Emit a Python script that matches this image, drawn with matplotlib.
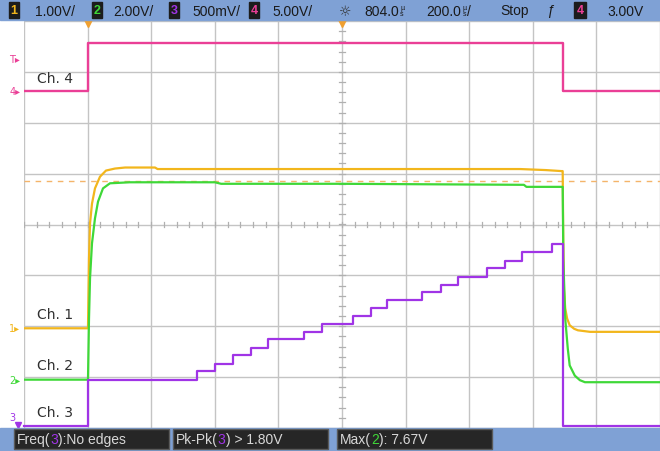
import matplotlib.pyplot as plt
import matplotlib.patches as mpatches
import numpy as np

plt.rcParams['font.family'] = ['Liberation Sans', 'DejaVu Sans']

W, H = 660, 452  # output size in pixels (dpi 100)

# --- 1. DATA (screen divisions: 10 across, 8 high, centre line = 0) ---
CH_COLORS = {"1": "#f2b61c", "2": "#3fd838", "3": "#a034e6", "4": "#ea3f96"}

# Ch. 4 - gate pulse
ch4_t = [0, 1.0, 8.47, 10]
ch4_v = [2.63, 3.56, 2.63, 2.63]

# Ch. 1 - yellow
ch1_t = [0, 1.006, 1.022, 1.038, 1.069, 1.116, 1.195, 1.289, 1.431, 1.59,
         2.06, 2.10, 5.0, 7.8, 8.2, 8.45, 8.47,
         8.48, 8.49, 8.51, 8.54, 8.58, 8.65, 8.71, 8.90, 10]
ch1_v = [-2.04, -2.04, -0.67, 0.02, 0.41, 0.71, 0.94, 1.06, 1.10, 1.12,
         1.12, 1.09, 1.09, 1.09, 1.07, 1.05, 1.05,
         -0.47, -1.26, -1.65, -1.85, -1.98, -2.05, -2.08, -2.11, -2.11]

# Ch. 2 - green
ch2_t = [0, 1.006, 1.022, 1.038, 1.069, 1.116, 1.164, 1.242, 1.352, 1.667,
         3.0, 3.1, 5.0, 7.86, 7.9, 8.45, 8.47,
         8.48, 8.51, 8.55, 8.58, 8.66, 8.74, 8.82, 10]
ch2_v = [-3.05, -3.05, -1.85, -1.06, -0.37, 0.12, 0.45, 0.71, 0.81, 0.83,
         0.83, 0.80, 0.80, 0.78, 0.74, 0.74, 0.74,
         -0.67, -1.85, -2.44, -2.77, -2.97, -3.06, -3.10, -3.10]

# Ch. 3 - purple staircase (step edges and levels)
ch3_edges = [0, 1.0, 2.72, 3.00, 3.29, 3.57, 3.84, 4.40, 4.69, 5.17, 5.46,
             5.71, 6.26, 6.56, 6.82, 7.28, 7.56, 7.83, 8.30, 8.47, 10]
ch3_levels = [-3.97, -3.06, -2.87, -2.75, -2.57, -2.42, -2.25, -2.11, -1.96,
              -1.79, -1.64, -1.49, -1.32, -1.18, -1.03, -0.86, -0.71, -0.55,
              -0.39, -3.97]

ref_levels = {"4": 2.63, "1": -2.04, "2": -3.05}
trig_level = 3.26
cursor_level = 0.85
marker_pos = [1.0, 5.0]

trace_labels = [("Ch. 4", 2.88), ("Ch. 1", -1.75), ("Ch. 2", -2.77), ("Ch. 3", -3.68)]

top_scales = [("1", "1.00V/", 9, 35), ("2", "2.00V/", 92, 113),
              ("3", "500mV/", 169, 192), ("4", "5.00V/", 249, 272)]
top_delay = "804.0"
top_timebase = "200.0"
top_state = "Stop"
top_trig = "3.00V"

meas_boxes = [(14, [("Freq(", "#d8d8d8"), ("3", CH_COLORS["3"]), ("):No edges", "#d8d8d8")]),
              (173, [("Pk-Pk(", "#d8d8d8"), ("3", CH_COLORS["3"]), (") > 1.80V", "#d8d8d8")]),
              (337, [("Max(", "#d8d8d8"), ("2", CH_COLORS["2"]), ("): 7.67V", "#d8d8d8")])]

# --- 2. FIGURE / SCREEN ---
fig = plt.figure(figsize=(W / 100, H / 100), dpi=100)
ax = fig.add_axes([24 / W, 1 - 429 / H, 636 / W, (429 - 22) / H])
ax.set_xlim(0, 10)
ax.set_ylim(-4, 4)
ax.axis("off")

grid_kw = dict(color="#c4c4c4", lw=1.0, zorder=1)
for gx in range(0, 11):
    ax.axvline(gx, **grid_kw)
for gy in range(-4, 5):
    ax.axhline(gy, **grid_kw)

# minor ticks on the centre lines
for tx in np.arange(0, 10.01, 0.2):
    ax.plot([tx, tx], [-0.05, 0.05], color="#b0b0b0", lw=0.9, zorder=1)
for ty in np.arange(-4, 4.01, 0.2):
    ax.plot([4.96, 5.04], [ty, ty], color="#b0b0b0", lw=0.9, zorder=1)

ax.axhline(cursor_level, color="#f4b46a", lw=1.0, ls=(0, (4, 4)), zorder=2)

# --- 3. TRACES ---
ax.plot(ch4_t, ch4_v, drawstyle="steps-post", color=CH_COLORS["4"], lw=1.7, zorder=3)
ax.plot(ch1_t, ch1_v, color=CH_COLORS["1"], lw=1.6, zorder=4)
ax.plot(ch2_t, ch2_v, color=CH_COLORS["2"], lw=1.6, zorder=5)
ax.plot(ch3_edges, ch3_levels + [ch3_levels[-1]], drawstyle="steps-post",
        color=CH_COLORS["3"], lw=1.6, zorder=6, clip_on=False)

for label, y in trace_labels:
    ax.text(0.2, y, label, fontsize=10, color="#303030", va="center", ha="left",
            family=["DejaVu Sans"])

# markers on the left edge
for ch, lvl in ref_levels.items():
    ax.text(-0.06, lvl, ch + "\u25b8", color=CH_COLORS[ch], fontsize=7, ha="right",
            va="center", clip_on=False, family=["DejaVu Sans"])
ax.text(-0.06, trig_level, "T\u25b8", color=CH_COLORS["4"], fontsize=7, ha="right",
        va="center", clip_on=False, family=["DejaVu Sans"])
ax.text(-0.14, -3.78, "3", color=CH_COLORS["3"], fontsize=7, ha="right",
        va="center", clip_on=False, family=["DejaVu Sans"])
ax.plot([-0.1], [-3.95], marker="v", color=CH_COLORS["3"], ms=4, clip_on=False)

for mx in marker_pos:
    ax.plot([mx], [3.97], marker="v", color="#f0a030", ms=6, clip_on=False, zorder=7)

# --- 4. STATUS BARS ---
bar_blue = "#7fa1d5"
fig.patches.append(mpatches.Rectangle((0, 1 - 21 / H), 1, 21 / H, transform=fig.transFigure,
                                      color=bar_blue, zorder=0))
fig.patches.append(mpatches.Rectangle((0, 0), 1, (H - 429) / H, transform=fig.transFigure,
                                      color=bar_blue, zorder=0))


def px(x, y):
    return x / W, 1 - y / H


renderer = fig.canvas.get_renderer()


def badge(x, ch, width=10):
    fig.patches.append(mpatches.Rectangle(px(x, 19), width / W, 16 / H, transform=fig.transFigure,
                                          color="#1c1c1c", zorder=2))
    fig.text(*px(x + width / 2, 11.5), ch, color=CH_COLORS[ch], fontsize=9, fontweight="bold",
             ha="center", va="center", zorder=3)


def num_with_us(x, value, slash=False):
    t = fig.text(*px(x, 11.5), value, **top_kw)
    x += t.get_window_extent(renderer).width + 1.5
    t = fig.text(*px(x, 11.5), "\u00b5\ns", **unit_kw)
    x += t.get_window_extent(renderer).width + 0.5
    if slash:
        fig.text(*px(x, 11.5), "/", **top_kw)


top_kw = dict(color="#1a1a1a", fontsize=10, va="center", ha="left")
unit_kw = dict(color="#1a1a1a", fontsize=5, ha="left", va="center", linespacing=0.9)
for ch, txt, bx, tx in top_scales:
    badge(bx, ch)
    fig.text(*px(tx, 11.5), txt, **top_kw)
fig.text(*px(345, 11.5), "\u263c", color="#303030", fontsize=10, ha="center", va="center",
         family=["DejaVu Sans"])
num_with_us(364, top_delay)
num_with_us(426, top_timebase, slash=True)
fig.text(*px(500, 11.5), top_state, **top_kw)
fig.text(*px(550, 11.5), "\u0192", color="#1a1a1a", fontsize=10, ha="center", va="center",
         style="italic")
badge(574, "4", width=12)
fig.text(*px(607, 11.5), top_trig, **top_kw)

for bx, parts in meas_boxes:
    fig.patches.append(mpatches.Rectangle(px(bx, 450), 155 / W, 20 / H, transform=fig.transFigure,
                                          facecolor="#262626", edgecolor="#5a5a5a", lw=1, zorder=2))
    x = bx + 3
    for s, c in parts:
        t = fig.text(*px(x, 440), s, color=c, fontsize=10, ha="left", va="center", zorder=3)
        x += t.get_window_extent(renderer).width

fig.savefig("out.png", dpi=100, facecolor="white")
